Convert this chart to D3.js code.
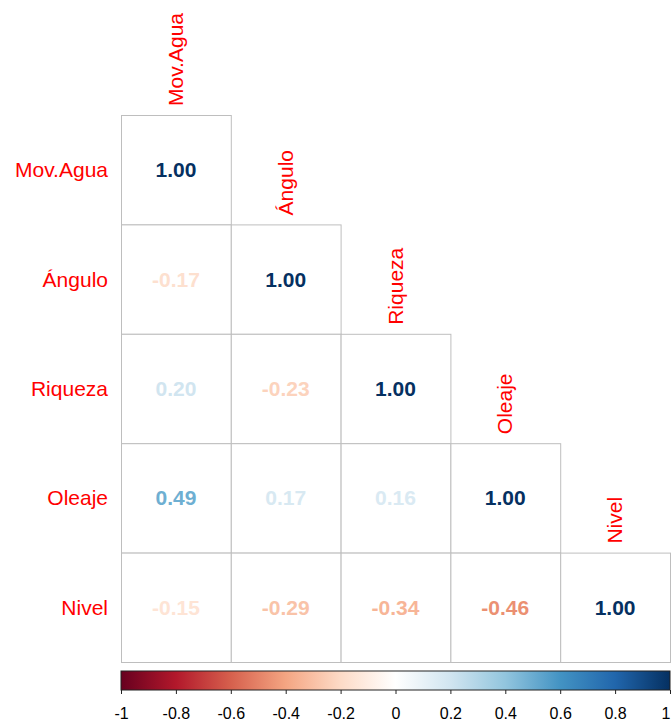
<!DOCTYPE html>
<html><head><meta charset="utf-8">
<script src="https://cdn.jsdelivr.net/npm/d3@7"></script>
<style>body{margin:0;background:#fff}svg{display:block}</style>
</head><body><svg id="c" width="672" height="727"></svg>
<script>
const variables = ["Mov.Agua", "Ángulo", "Riqueza", "Oleaje", "Nivel"];
const rowMovAgua = [1.00];
const rowAngulo  = [-0.17, 1.00];
const rowRiqueza = [0.20, -0.23, 1.00];
const rowOleaje  = [0.49, 0.17, 0.16, 1.00];
const rowNivel   = [-0.15, -0.29, -0.34, -0.46, 1.00];
const matrixRows = [rowMovAgua, rowAngulo, rowRiqueza, rowOleaje, rowNivel];
const paletteColors = ["#67001F","#B2182B","#D6604D","#F4A582","#FDDBC7","#FFFFFF","#D1E5F0","#92C5DE","#4393C3","#2166AC","#053061"];
const legendTicks = [-1,-0.8,-0.6,-0.4,-0.2,0,0.2,0.4,0.6,0.8,1];

const svg = d3.select("#c");
const font = "'Liberation Sans', Arial, sans-serif";
const gx0 = 121, gx1 = 670, gy0 = 115, gy1 = 662;
const x = d3.scaleBand().domain(variables).range([gx0, gx1]);
const y = d3.scaleBand().domain(variables).range([gy0, gy1]);
const color = d3.scaleLinear().domain(d3.range(11).map(i => -1 + i * 0.2)).range(paletteColors).interpolate(d3.interpolateRgb);
const fmt = v => (v < 0 ? "-" : "") + Math.abs(v).toFixed(2);

const cells = [];
matrixRows.forEach((r, i) => r.forEach((v, j) => cells.push({row: variables[i], col: variables[j], v})));

svg.selectAll("rect.cell").data(cells).join("rect")
  .attr("x", d => x(d.col) + 0.5).attr("y", d => y(d.row) + 0.5)
  .attr("width", x.bandwidth()).attr("height", y.bandwidth())
  .attr("fill", "white").attr("stroke", "#BEBEBE").attr("stroke-width", 1);

svg.selectAll("text.num").data(cells).join("text")
  .attr("x", d => x(d.col) + x.bandwidth() / 2)
  .attr("y", d => y(d.row) + y.bandwidth() / 2)
  .attr("dy", "0.36em").attr("text-anchor", "middle")
  .attr("font-family", font).attr("font-weight", "bold").attr("font-size", 21)
  .attr("fill", d => color(d.v))
  .text(d => fmt(d.v));

svg.selectAll("text.rl").data(variables).join("text")
  .attr("x", gx0 - 13).attr("y", d => y(d) + y.bandwidth() / 2)
  .attr("dy", "0.36em").attr("text-anchor", "end")
  .attr("font-family", font).attr("font-size", 21).attr("fill", "#FF0000")
  .text(d => d);

svg.selectAll("text.cl").data(variables).join("text")
  .attr("transform", d => `translate(${x(d) + x.bandwidth() / 2 + 7},${y(d) - 9}) rotate(-90)`)
  .attr("text-anchor", "start")
  .attr("font-family", font).attr("font-size", 21).attr("fill", "#FF0000")
  .text(d => d);

// color legend
const ly0 = 671, ly1 = 690;
const lx = d3.scaleLinear().domain([-1, 1]).range([gx0, gx1]);
const defs = svg.append("defs");
const grad = defs.append("linearGradient").attr("id", "g").attr("x1", "0%").attr("x2", "100%");
paletteColors.forEach((c, i) => grad.append("stop").attr("offset", (i * 10) + "%").attr("stop-color", c));
svg.append("rect").attr("x", gx0).attr("y", ly0).attr("width", gx1 - gx0).attr("height", ly1 - ly0)
  .attr("fill", "url(#g)").attr("stroke", "#222").attr("stroke-width", 1);
const axis = d3.axisBottom(lx).tickValues(legendTicks).tickSize(4).tickPadding(14).tickFormat(d => String(+d.toFixed(1)));
const ag = svg.append("g").attr("transform", `translate(0,${ly1})`).call(axis);
ag.select(".domain").remove();
ag.selectAll("line").attr("stroke", "#222");
ag.selectAll("text").attr("font-family", font).attr("font-size", 16).attr("fill", "#000")
  .filter(d => d === 1).attr("text-anchor", "end").attr("dx", 0);
</script></body></html>
